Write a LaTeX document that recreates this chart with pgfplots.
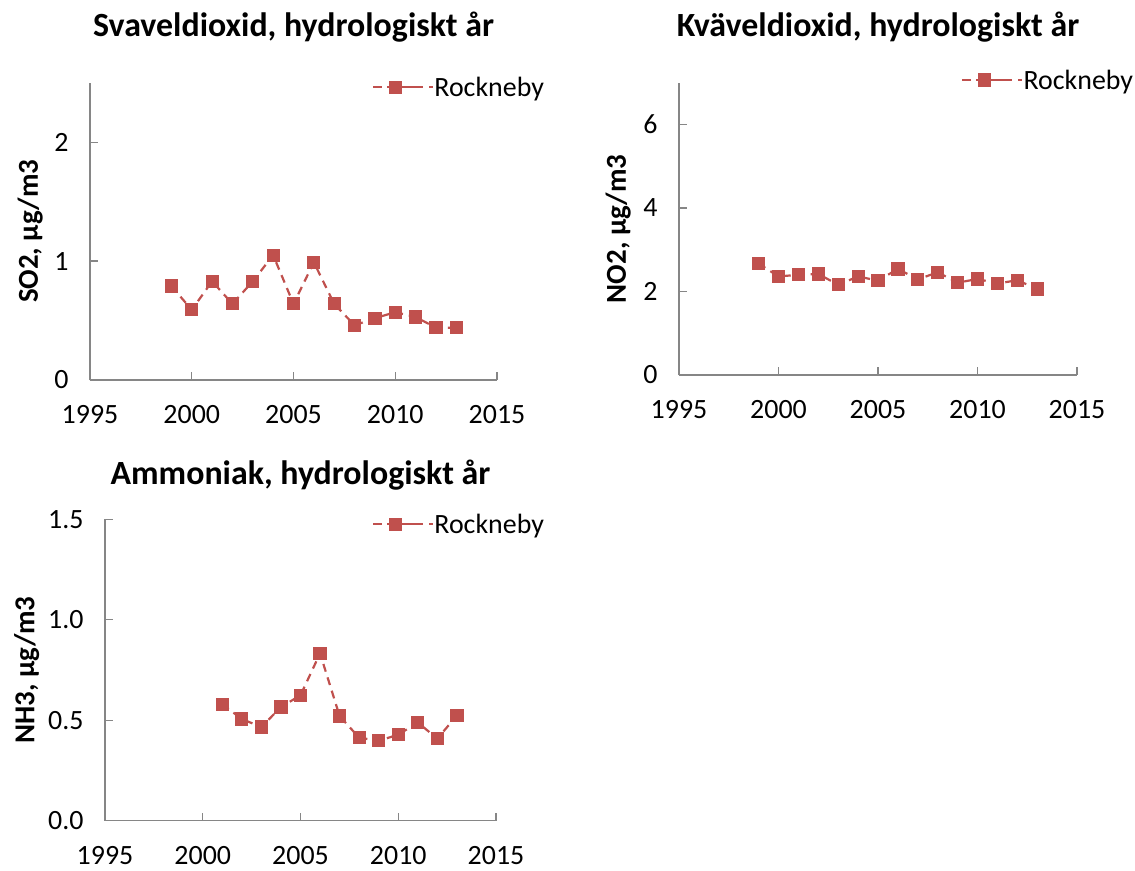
\documentclass[border=0pt]{standalone}
\usepackage{fontspec}
\setmainfont{Carlito}
\usepackage{pgfplots}
\pgfplotsset{compat=1.18}
\definecolor{ser}{HTML}{C0504D}
\definecolor{axgray}{HTML}{868686}

\pgfplotsset{
  panel/.style={
    scale only axis,
    axis lines*=left,
    axis line style={axgray, line width=1.3bp, -},
    tick style={axgray, line width=1.3bp},
    tick align=inside, major tick length=8bp,
    xmin=1995, xmax=2015, xtick={1995,2000,...,2015},
    /pgf/number format/assume math mode=true,
    /pgf/number format/1000 sep={},
    tick label style={font=\fontsize{28}{32}\selectfont, black},
    xticklabel style={yshift=-22bp},
    yticklabel style={xshift=-18bp},
    title style={font=\bfseries\fontsize{34}{40}\selectfont, at={(0.5,1)}, anchor=center},
    ylabel style={font=\bfseries\fontsize{29}{34}\selectfont, anchor=center},
    legend style={draw=none, fill=none, anchor=west, inner sep=0pt,
      nodes={inner sep=0pt}, font=\fontsize{28}{32}\selectfont},
    legend image code/.code={%
      \path (0bp,0bp) -- (60bp,0bp);
      \draw[solid] (0bp,0bp) -- (9bp,0bp) (15bp,0bp) -- (29bp,0bp) (35bp,0bp) -- (44bp,0bp);
      \draw[only marks] plot coordinates {(22bp,0bp)};},
  },
  ser/.style={color=ser, line width=2.2bp, dash pattern=on 8bp off 6bp,
    mark=square*, mark size=5.5bp, mark options={solid, fill=ser}},
}

\begin{document}
\begin{tikzpicture}
\path[use as bounding box] (0,0) rectangle (1135bp,-871bp);

% SO2
\begin{axis}[panel, at={(90bp,-380bp)}, anchor=south west,
  width=407bp, height=297.3bp,
  ymin=0, ymax=2.5, ytick={0,1,2},
  title={Svaveldioxid, hydrologiskt år}, title style={yshift=50bp},
  ylabel={SO2, µg/m3}, ylabel style={at={(axis description cs:-0.147,0.5)}},
  legend style={at={(0.693,0.985)}}]
\addplot[ser] coordinates {
 (1999,0.79) (2000,0.59) (2001,0.83) (2002,0.64) (2003,0.83) (2004,1.05)
 (2005,0.64) (2006,0.99) (2007,0.64) (2008,0.46) (2009,0.52) (2010,0.57)
 (2011,0.53) (2012,0.44) (2013,0.44)};
\legend{Rockneby}
\end{axis}

% NO2
\begin{axis}[panel, at={(679bp,-375bp)}, anchor=south west,
  width=398bp, height=292.3bp,
  ymin=0, ymax=7, ytick={0,2,4,6},
  title={Kväveldioxid, hydrologiskt år}, title style={yshift=50bp},
  ylabel={NO2, µg/m3}, ylabel style={at={(axis description cs:-0.153,0.5)}},
  legend style={at={(0.709,1.009)}}]
\addplot[ser] coordinates {
 (1999,2.67) (2000,2.36) (2001,2.40) (2002,2.42) (2003,2.16) (2004,2.36)
 (2005,2.26) (2006,2.54) (2007,2.29) (2008,2.46) (2009,2.21) (2010,2.30)
 (2011,2.19) (2012,2.27) (2013,2.06)};
\legend{Rockneby}
\end{axis}

% NH3
\begin{axis}[panel, at={(105bp,-820.7bp)}, anchor=south west,
  width=391bp, height=301.4bp,
  ymin=0, ymax=1.5, ytick={0,0.5,1,1.5},
  yticklabel style={/pgf/number format/fixed, /pgf/number format/fixed zerofill,
    /pgf/number format/precision=1},
  title={Ammoniak, hydrologiskt år}, title style={yshift=38bp},
  ylabel={NH3, µg/m3}, ylabel style={at={(axis description cs:-0.2,0.5)}},
  legend style={at={(0.683,0.984)}}]
\addplot[ser] coordinates {
 (2001,0.58) (2002,0.506) (2003,0.466) (2004,0.566) (2005,0.624) (2006,0.833)
 (2007,0.521) (2008,0.413) (2009,0.398) (2010,0.428) (2011,0.489) (2012,0.408)
 (2013,0.524)};
\legend{Rockneby}
\end{axis}
\end{tikzpicture}
\end{document}
